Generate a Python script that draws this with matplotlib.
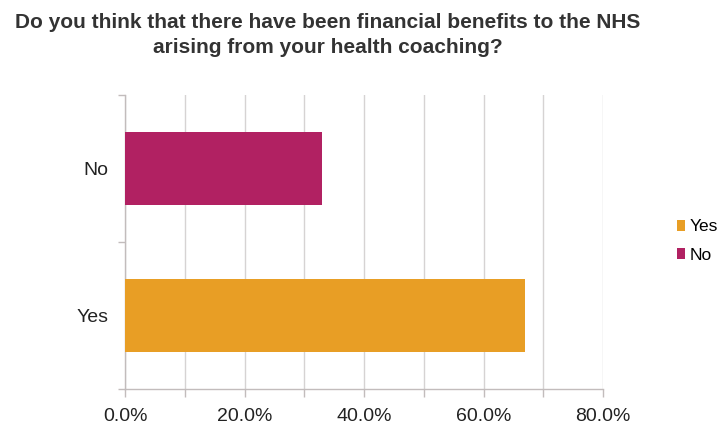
import matplotlib
matplotlib.use("Agg")
import matplotlib.pyplot as plt
from matplotlib.ticker import MultipleLocator, FixedLocator, NullFormatter
from matplotlib.patches import Patch

plt.rcParams['font.family'] = ['Liberation Sans', 'DejaVu Sans']

title_lines = ["Do you think that there have been financial benefits to the NHS",
               "arising from your health coaching?"]
categories = ["Yes", "No"]
values = [67.0, 33.0]
colors = ["#E89E25", "#B12162"]
x_ticks = [0, 20, 40, 60, 80]
x_tick_labels = ["0.0%", "20.0%", "40.0%", "60.0%", "80.0%"]

W, H = 719, 428
fig = plt.figure(figsize=(W / 100, H / 100), dpi=100)
ax = fig.add_axes([125 / W, (H - 389) / H, (603 - 125) / W, (389 - 95) / H])

y = list(range(len(categories)))
ax.barh(y, values, height=0.5, color=colors, zorder=3)

ax.set_xlim(0, 80)
ax.set_ylim(-0.5, len(categories) - 0.5)

axis_col = "#c2bcbc"
grid_col = "#d6d3d3"

# x axis: gridlines and ticks every 10%, labels every 20%
ax.xaxis.set_major_locator(FixedLocator(x_ticks))
ax.set_xticklabels(x_tick_labels, fontsize=14, color="#222222")
ax.xaxis.set_minor_locator(MultipleLocator(10))
ax.tick_params(axis="x", which="both", direction="out", length=6, width=1,
               color=axis_col, pad=8)
ax.grid(axis="x", which="both", color=grid_col, linewidth=1, zorder=0)

# y axis: tick marks at category boundaries, labels at centres
ax.yaxis.set_major_locator(FixedLocator([-0.5, 0.5, 1.5]))
ax.yaxis.set_major_formatter(NullFormatter())
ax.yaxis.set_minor_locator(FixedLocator(y))
ax.set_yticklabels(categories, minor=True, fontsize=14, color="#222222")
ax.tick_params(axis="y", which="major", direction="out", length=5, width=1, color=axis_col)
ax.tick_params(axis="y", which="minor", length=0, pad=12)

for s in ["top", "right"]:
    ax.spines[s].set_visible(False)
for s in ["left", "bottom"]:
    ax.spines[s].set_color(axis_col)
    ax.spines[s].set_linewidth(1)

# two-line bold title
for line, base in zip(title_lines, [28, 53]):
    fig.text(328 / W, 1 - base / H, line, ha="center", va="baseline", fontsize=15,
             fontweight="bold", color="#333333")

handles = [Patch(facecolor=colors[0], label=categories[0]),
           Patch(facecolor=colors[1], label=categories[1])]
fig.legend(handles=handles, loc="center left", bbox_to_anchor=(677 / W, 1 - 241 / H),
           frameon=False, fontsize=12.5, handlelength=0.45, handleheight=0.55,
           handletextpad=0.3, labelspacing=0.75, borderaxespad=0, borderpad=0)

fig.savefig("out.png", dpi=100, facecolor="white")
